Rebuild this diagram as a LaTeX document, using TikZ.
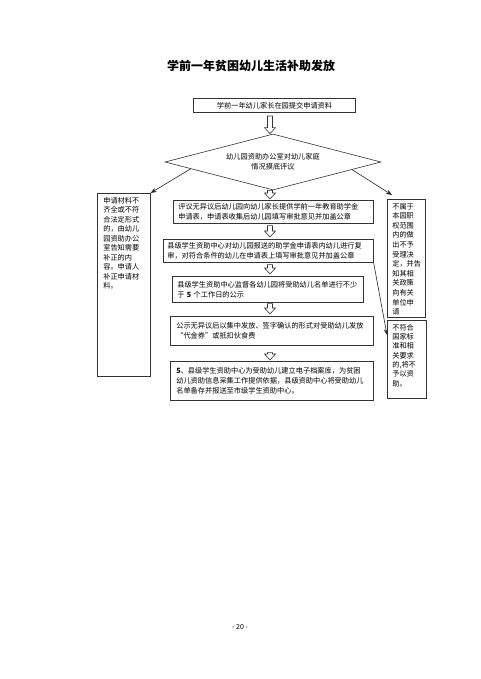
\documentclass[tikz,border=0pt]{standalone}
\usepackage{fontspec}
\newfontfamily\cjk{Noto Sans CJK SC}
\usetikzlibrary{shapes.geometric,arrows.meta,calc}
\newcommand\boxfont{\cjk\fontsize{7.2}{10}\selectfont}
\newcommand\sidefont{\cjk\fontsize{7.2}{9.5}\selectfont}
\newcommand\harrow[4]{%
  \draw[hollowarrow] let \p1=(ax |- #1), \p2=(ax |- #2) in
    (\x1-2.5pt,\y1-#3) -- (\x1-2.5pt,\y2+#4+6pt) -- (\x1-5.5pt,\y2+#4+6pt) --
    (\x1,\y2+#4) -- (\x1+5.5pt,\y2+#4+6pt) -- (\x1+2.5pt,\y2+#4+6pt) --
    (\x1+2.5pt,\y1-#3) -- cycle;}
\tikzset{
  box/.style={draw=black!80, line width=0.6pt, anchor=north west, inner xsep=5pt,
    inner ysep=1pt, align=left, font=\boxfont},
  sidebox/.style={draw=black!80, line width=0.6pt, anchor=north west, inner xsep=5pt,
    inner ysep=4pt},
  hollowarrow/.style={draw=black!80, line width=0.6pt, fill=white},
  arr/.style={draw=black!85, line width=0.6pt, -{Stealth[length=6pt,width=4.5pt]}},
}
\begin{document}
\begin{tikzpicture}[x=1pt,y=-1pt]
\fill[white] (0,0) rectangle (480,679);
\useasboundingbox (0,0) rectangle (480,679);
\coordinate (ax) at (270,0);

\node[font=\cjk\bfseries\fontsize{12}{14}\selectfont] (title) at (251,66) {学前一年贫困幼儿生活补助发放};

\node[box, line width=1pt, align=center, text width=152pt, minimum height=14pt] (b1) at (193,98)
  {学前一年幼儿家长在园提交申请资料};

\node[diamond, draw=black!80, line width=0.6pt, aspect=3.84, minimum width=216pt,
  minimum height=56pt, inner sep=0pt, align=center, font=\boxfont] (dia) at (273,162)
  {幼儿园资助办公室对幼儿家庭\\情况摸底评议};

\node[box, text width=190pt, minimum height=23pt] (b2) at (173,200)
  {评议无异议后幼儿园向幼儿家长提供学前一年教育助学金\\申请表，申请表收集后幼儿园填写审批意见并加盖公章};

\node[box, inner xsep=4pt, text width=202pt, minimum height=23pt] (b3) at (163,239)
  {县级学生资助中心对幼儿园报送的助学金申请表内幼儿进行复\\审，对符合条件的幼儿在申请表上填写审批意见并加盖公章};

\node[box, text width=181pt, minimum height=26pt] (b4) at (172,276)
  {县级学生资助中心监督各幼儿园将受助幼儿名单进行不少\\于 \textbf{5} 个工作日的公示};

\node[box, inner xsep=6pt, text width=191pt, minimum height=29pt] (b5) at (170,316)
  {公示无异议后以集中发放、签字确认的形式对受助幼儿发放\\“代金券”或抵扣伙食费};

\node[box, inner xsep=6pt, text width=191pt, minimum height=39pt] (b6) at (170,361)
  {\textbf{5}、县级学生资助中心为受助幼儿建立电子档案库，为贫困\\幼儿资助信息采集工作提供依据，县级资助中心将受助幼儿\\名单备存并报送至市级学生资助中心。};

\node[sidebox, inner xsep=6pt] (lbox) at (97,193)
  {\parbox[c][175pt][t]{41pt}{\sidefont\raggedright 申请材料不\\齐全或不符\\合法定形式\\的，由幼儿\\园资助办公\\室告知需要\\补正的内\\容。申请人\\补正申请材\\料。}};

\node[sidebox] (r1) at (387,199)
  {\parbox[c][110pt][t]{28pt}{\cjk\fontsize{7.2}{9.6}\selectfont\raggedright 不属于\\本园职\\权范围\\内的做\\出不予\\受理决\\定，并告\\知其相\\关政策\\向有关\\单位申\\请}};

\node[sidebox] (r2) at (387,320)
  {\parbox[c][70pt][t]{29pt}{\cjk\fontsize{7.2}{9.3}\selectfont\raggedright 不符合\\国家标\\准和相\\关要求\\的,将不\\予以资\\助。}};

\node[font=\cjk\fontsize{7}{8}\selectfont] (pg) at (240,627) {- 20 -};

\harrow{b1.south}{dia.north}{3pt}{0pt}
\harrow{dia.south}{b2.north}{0pt}{1pt}
\harrow{b2.south}{b3.north}{2pt}{2pt}
\harrow{b3.south}{b4.north}{2pt}{2pt}
\harrow{b4.south}{b5.north}{1pt}{2pt}
\harrow{b5.south}{b6.north}{7pt}{1pt}

\draw[arr] ($(dia.west)!0.24!(dia.south)$) -- (lbox.north east);
\draw[arr] ($(dia.east)!0.27!(dia.south)$) -- ($(r1.north west)+(5,-4)$);
\draw[arr] (b3.south east) -- ($(r2.north west)+(0,15)$);
\end{tikzpicture}
\end{document}
